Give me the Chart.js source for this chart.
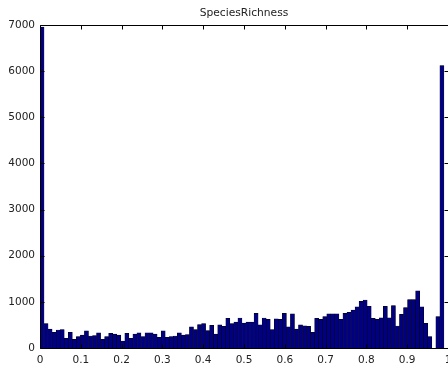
<!DOCTYPE html>
<html>
<head>
<meta charset="utf-8">
<script src="https://cdn.jsdelivr.net/npm/chart.js@4/dist/chart.umd.min.js"></script>
<style>
  html, body { margin: 0; padding: 0; background: #fff; overflow: hidden; }
  #wrap { position: relative; width: 480px; height: 366px; }
</style>
</head>
<body>
<div id="wrap"><canvas id="hist" width="480" height="366"></canvas></div>
<script>
const TITLE = "SpeciesRichness";

// 100 bins over [0, 0.99]
const BIN_WIDTH = 0.0099;
const COUNTS = [
  6950, 530, 410, 340, 390, 400, 210, 340, 190, 250,
  280, 370, 260, 270, 330, 190, 250, 320, 300, 280,
  150, 320, 210, 300, 330, 250, 330, 330, 300, 230,
  370, 230, 250, 260, 330, 280, 290, 460, 400, 510,
  530, 380, 490, 300, 500, 470, 640, 530, 560, 650,
  540, 560, 560, 750, 500, 650, 620, 400, 630, 620,
  750, 460, 740, 410, 500, 480, 470, 340, 640, 620,
  680, 740, 740, 740, 620, 750, 770, 820, 890, 1010,
  1040, 905, 640, 620, 655, 905, 655, 920, 477, 730,
  875, 1050, 1050, 1240, 890, 535, 245, 0, 680, 6120,
];

const X_TICKS = [0, 0.1, 0.2, 0.3, 0.4, 0.5, 0.6, 0.7, 0.8, 0.9, 1];
const Y_TICKS = [0, 1000, 2000, 3000, 4000, 5000, 6000, 7000];

const FONT = "'DejaVu Sans', sans-serif";
const TICK_LEN = 4;

// bar centres from the bin index
const points = COUNTS.map((c, i) => ({ x: (i + 0.5) * BIN_WIDTH, y: c }));

// box around the plot with inward ticks on all four sides
const boxAxes = {
  id: "boxAxes",
  afterDatasetsDraw(chart) {
    const { ctx, chartArea: a, scales } = chart;
    const L = Math.round(a.left) + 0.5;
    const R = Math.round(a.right) + 0.5;
    const T = Math.round(a.top) + 0.5;
    const B = Math.round(a.bottom) + 0.5;
    ctx.save();
    ctx.strokeStyle = "#000";
    ctx.lineWidth = 1;
    ctx.beginPath();
    ctx.rect(L, T, R - L, B - T);
    X_TICKS.forEach((v) => {
      const px = Math.round(scales.x.getPixelForValue(v)) + 0.5;
      ctx.moveTo(px, B); ctx.lineTo(px, B - TICK_LEN);
      ctx.moveTo(px, T); ctx.lineTo(px, T + TICK_LEN);
    });
    Y_TICKS.forEach((v) => {
      const py = Math.round(scales.y.getPixelForValue(v)) + 0.5;
      ctx.moveTo(L, py); ctx.lineTo(L + TICK_LEN, py);
      ctx.moveTo(R, py); ctx.lineTo(R - TICK_LEN, py);
    });
    ctx.stroke();
    ctx.restore();
  },
};

new Chart(document.getElementById("hist"), {
  type: "bar",
  data: {
    datasets: [
      {
        data: points,
        backgroundColor: "#000080",
        borderColor: "#000000",
        borderWidth: 0.5,
        barPercentage: 1,
        categoryPercentage: 1,
      },
    ],
  },
  options: {
    responsive: false,
    animation: false,
    devicePixelRatio: 1,
    layout: { padding: { left: 0, right: 32, top: 0, bottom: 0 } },
    plugins: {
      legend: { display: false },
      tooltip: { enabled: false },
      title: {
        display: true,
        text: TITLE,
        fullSize: false,
        color: "#222",
        font: { family: FONT, size: 10.7, weight: "normal" },
        padding: { top: 7, bottom: 5 },
      },
    },
    scales: {
      x: {
        type: "linear",
        min: 0,
        max: 1,
        offset: false,
        grid: { display: false, drawTicks: false },
        border: { display: false },
        afterBuildTicks: (s) => { s.ticks = X_TICKS.map((v) => ({ value: v })); },
        afterFit: (s) => { s.height = 18; },
        ticks: {
          color: "#222",
          padding: 6,
          maxRotation: 0,
          autoSkip: false,
          font: { family: FONT, size: 10.5 },
          callback: (v) => String(v),
        },
      },
      y: {
        min: 0,
        max: 7000,
        grid: { display: false, drawTicks: false },
        border: { display: false },
        afterBuildTicks: (s) => { s.ticks = Y_TICKS.map((v) => ({ value: v })); },
        afterFit: (s) => { s.width = 40; },
        ticks: {
          color: "#222",
          padding: 5,
          font: { family: FONT, size: 10.5 },
          callback: (v) => String(v),
        },
      },
    },
  },
  plugins: [boxAxes],
});
</script>
</body>
</html>
